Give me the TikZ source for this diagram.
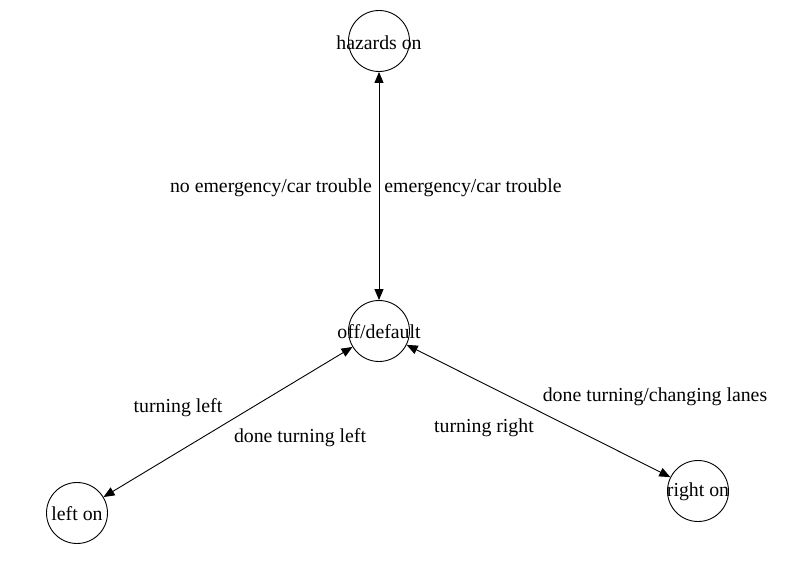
\documentclass[tikz,border=0pt]{standalone}
\usepackage{fontspec}
\setmainfont{Liberation Serif}
\usetikzlibrary{arrows.meta}
\begin{document}
\begin{tikzpicture}[x=1bp,y=-1bp,
  state/.style={draw,circle,minimum size=61bp,inner sep=0pt,line width=0.9bp},
  lbl/.style={font=\fontsize{19.8bp}{22bp}\selectfont},
  conn/.style={line width=0.9bp,{Triangle[length=11bp,width=9bp]}-{Triangle[length=11bp,width=9bp]}}]
\useasboundingbox (0,0) rectangle (785,588);
\node[state] (haz) at (379,41) {};
\node[lbl] (hazt) at (379,43) {hazards on};
\node[state] (off) at (379,331) {};
\node[lbl] (offt) at (379,332) {off/default};
\node[state] (left) at (77,513) {};
\node[lbl] (leftt) at (77,514) {left on};
\node[state] (right) at (698,491) {};
\node[lbl] (rightt) at (698,492) {right on};
\draw[conn] (haz) -- (off);
\draw[conn] (off) -- (left);
\draw[conn] (off) -- (right);
\node[lbl] (l1) at (271,188) {no emergency/car trouble};
\node[lbl] (l2) at (473,188) {emergency/car trouble};
\node[lbl] (l3) at (178,408) {turning left};
\node[lbl] (l4) at (300,438) {done turning left};
\node[lbl] (l5) at (484,428) {turning right};
\node[lbl] (l6) at (655,397) {done turning/changing lanes};
\end{tikzpicture}
\end{document}
